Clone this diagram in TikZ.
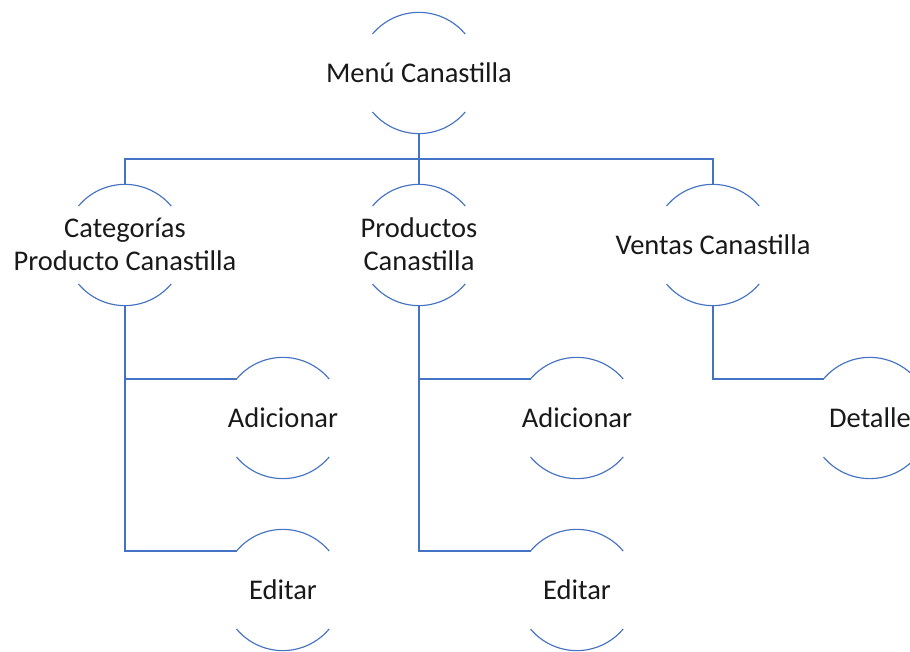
\documentclass[tikz,border=0pt]{standalone}
\usepackage{fontspec}
\setmainfont{Carlito}
\definecolor{lineblue}{RGB}{68,114,196}
\newcommand\lbl[1]{\raisebox{-2.5pt}[\height][\depth]{\makebox[0pt][c]{\begin{tabular}{@{}c@{}}#1\end{tabular}}}}
\begin{document}
\begin{tikzpicture}[x=1pt,y=1pt,
  item/.style={circle,minimum size=121pt,inner sep=0pt,
    font=\fontsize{28.5}{33}\selectfont,text=black!90},
  conn/.style={draw=lineblue,line width=1.15pt}]
\useasboundingbox (0,0) rectangle (910,651);
\clip (0,0) rectangle (910,651);
\node[item] (menu) at (419,578) {\lbl{Menú Canastilla}};
\node[item] (cat) at (125,406) {\lbl{Categorías\\Producto Canastilla}};
\node[item] (prod) at (419,406) {\lbl{Productos\\Canastilla}};
\node[item] (ven) at (713,406) {\lbl{Ventas Canastilla}};
\node[item] (ad1) at (283,233) {\lbl{Adicionar}};
\node[item] (ed1) at (283,61) {\lbl{Editar}};
\node[item] (ad2) at (577,233) {\lbl{Adicionar}};
\node[item] (ed2) at (577,61) {\lbl{Editar}};
\node[item] (det) at (870,233) {\lbl{Detalle}};
\foreach \n in {menu,cat,prod,ven,ad1,ed1,ad2,ed2,det}{
  \draw[conn] (\n.140) arc[start angle=140,end angle=40,radius=60.5];
  \draw[conn] (\n.220) arc[start angle=220,end angle=320,radius=60.5];
}
\coordinate (bus) at (419,492);
\draw[conn] (menu.south) -- (bus);
\draw[conn] (cat.north) |- (bus) -| (ven.north);
\draw[conn] (prod.north) -- (bus);
\draw[conn] (cat.south) |- (ed1.140);
\draw[conn] (cat.south |- ad1.140) -- (ad1.140);
\draw[conn] (prod.south) |- (ed2.140);
\draw[conn] (prod.south |- ad2.140) -- (ad2.140);
\draw[conn] (ven.south) |- (det.140);
\end{tikzpicture}
\end{document}
